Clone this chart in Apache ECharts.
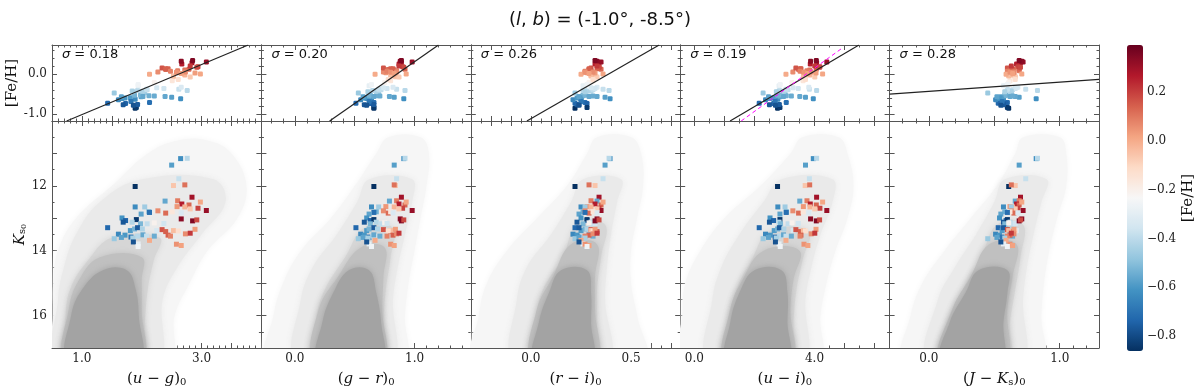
<!DOCTYPE html>
<html>
<head>
<meta charset="utf-8">
<script src="https://cdn.jsdelivr.net/npm/echarts@6/dist/echarts.min.js"></script>
<style>
  html, body { margin: 0; padding: 0; background: #fff; }
  #chart { width: 1200px; height: 392px; }
</style>
</head>
<body>
<div id="chart"></div>
<script>
// ---- stars: one entry per star, same order in every array ----
var starKs = [11.16,11.15,11.36,11.78,12.02,11.99,11.97,12.35,12.47,12.46,
              12.56,12.59,12.50,12.69,12.76,12.64,12.65,12.71,12.65,12.65,
              12.80,12.77,12.84,12.80,12.83,12.82,12.87,12.99,13.07,13.12,
              13.04,13.12,13.17,13.17,13.14,13.16,13.02,13.08,13.05,13.29,
              13.38,13.33,13.29,13.33,13.38,13.35,13.41,13.38,13.39,13.34,
              13.49,13.52,13.58,13.55,13.51,13.55,13.55,13.52,13.55,13.48,
              13.46,13.63,13.59,13.61,13.68,13.79,13.73,13.80,13.84,13.87];
var starFeh = [-0.62,-0.41,-0.58,-0.38,-0.86,-0.06,0.11,0.29,-0.56,0.09,
               0.26,0.13,0.01,0.19,0.31,0.04,-0.02,-0.07,-0.63,-0.46,
               -0.54,0.06,0.12,-0.16,-0.33,-0.71,-0.57,-0.61,-0.74,-0.77,
               -0.84,-0.42,-0.52,-0.39,-0.21,-0.36,0.33,0.35,0.18,-0.73,
               -0.59,-0.53,-0.76,-0.43,-0.34,0.16,0.14,-0.04,-0.13,0.03,
               -0.64,-0.60,-0.69,-0.41,-0.56,-0.38,-0.55,0.14,0.08,0.06,
               0.21,-0.47,-0.57,-0.44,0.00,-0.29,-0.78,0.05,0.02,-0.26];
var starUG = [2.65,2.76,2.50,2.62,1.89,2.53,2.72,2.84,2.39,2.60,
              2.67,2.79,2.98,2.94,3.08,2.59,2.72,2.81,1.89,2.05,
              2.12,2.27,2.40,2.51,2.66,2.13,1.99,1.67,1.73,1.69,
              1.91,1.84,1.98,2.09,2.21,2.37,2.66,2.85,2.92,1.43,
              1.81,1.88,1.93,2.01,2.25,2.34,2.40,2.53,2.61,2.89,
              1.61,1.72,1.82,1.93,2.02,2.08,2.21,2.44,2.48,2.73,
              2.81,1.54,1.66,1.85,2.13,1.94,1.86,2.58,2.66,1.94];
var starGR = [0.91,0.92,0.83,0.85,0.66,0.84,0.83,0.89,0.79,0.85,
              0.87,0.92,0.93,0.90,0.98,0.76,0.83,0.87,0.64,0.70,
              0.68,0.74,0.78,0.80,0.82,0.66,0.62,0.60,0.63,0.58,
              0.66,0.68,0.63,0.72,0.75,0.77,0.88,0.89,0.91,0.51,
              0.60,0.62,0.66,0.69,0.74,0.74,0.80,0.80,0.78,0.84,
              0.55,0.58,0.62,0.65,0.66,0.70,0.71,0.82,0.77,0.85,
              0.87,0.53,0.57,0.61,0.67,0.62,0.60,0.80,0.83,0.64];
var starRI = [0.395,0.39,0.37,0.36,0.22,0.32,0.29,0.34,0.33,0.30,
              0.32,0.35,0.36,0.34,0.35,0.28,0.30,0.33,0.25,0.27,
              0.26,0.27,0.29,0.31,0.33,0.27,0.24,0.25,0.28,0.23,
              0.28,0.30,0.26,0.31,0.29,0.32,0.33,0.32,0.34,0.22,
              0.25,0.27,0.24,0.28,0.30,0.30,0.33,0.30,0.31,0.32,
              0.21,0.23,0.25,0.26,0.29,0.27,0.31,0.29,0.27,0.31,
              0.33,0.22,0.24,0.27,0.25,0.26,0.24,0.27,0.29,0.28];
var starUI = [3.96,4.07,3.70,3.83,2.77,3.69,3.84,4.07,3.51,3.75,
              3.86,4.06,4.27,4.18,4.41,3.63,3.85,4.01,2.78,3.02,
              3.06,3.28,3.47,3.62,3.81,3.06,2.85,2.52,2.64,2.50,
              2.85,2.82,2.87,3.12,3.25,3.46,3.87,4.06,4.17,2.16,
              2.66,2.77,2.83,2.98,3.29,3.38,3.53,3.63,3.70,4.05,
              2.37,2.53,2.69,2.84,2.97,3.05,3.23,3.55,3.52,3.89,
              4.01,2.29,2.47,2.73,3.05,2.82,2.70,3.65,3.78,2.86];
var starJK = [0.82,0.83,0.69,0.74,0.61,0.66,0.63,0.70,0.66,0.69,
              0.67,0.69,0.71,0.68,0.72,0.62,0.64,0.66,0.57,0.63,
              0.58,0.63,0.65,0.62,0.68,0.60,0.55,0.54,0.59,0.57,
              0.60,0.62,0.58,0.64,0.61,0.66,0.71,0.69,0.70,0.53,
              0.56,0.59,0.57,0.63,0.67,0.60,0.64,0.61,0.66,0.65,
              0.51,0.54,0.56,0.60,0.62,0.60,0.64,0.62,0.60,0.65,
              0.63,0.45,0.52,0.58,0.59,0.57,0.55,0.62,0.64,0.60];

// ---- fitted relations in the [Fe/H] panels: two end points each ----
var fitUG = [[0.745, -1.18], [3.78, 0.74]];
var fitGR = [[0.29, -1.18], [1.20, 0.74]];
var fitRI = [[-0.02, -1.18], [0.64, 0.74]];
var fitUI = [[1.19, -1.18], [5.48, 0.74]];
var fitJK = [[-0.30, -0.50], [1.30, -0.13]];
var altUI = [[1.56, -1.18], [4.92, 0.66]];   // magenta dashed relation
var sigmas = ['0.18', '0.20', '0.26', '0.19', '0.28'];

// ---- background field population, [Ks, left colour, right colour] per density level ----
var cloudUG = [
  [[10.6,2.6,3.1],[11,2.1,3.5],[12,1.5,3.75],[13,0.9,3.6],[14,0.6,3.1],[15,0.52,2.8],[16,0.52,2.55],[17.4,0.52,2.45]],
  [[11.8,2.0,3.2],[12.5,1.3,3.4],[13.5,0.9,3.0],[14.5,0.7,2.6],[15.5,0.6,2.35],[17.4,0.6,2.25]],
  [[13.6,1.5,2.3],[14.3,1.1,2.2],[15.2,0.8,2.1],[16.2,0.72,2.05],[17.4,0.7,2.0]],
  [[14.2,1.3,2.0],[14.9,0.95,2.0],[15.8,0.78,2.0],[17.4,0.74,1.98]],
  [[14.6,1.35,1.75],[15.2,1.0,1.9],[16.0,0.82,1.95],[17.4,0.78,1.95]]
];
var cloudGR = [
  [[10.5,0.78,1.05],[11,0.68,1.12],[12,0.5,1.1],[13,0.3,1.05],[14,0.05,1.0],[15,-0.1,0.95],[16,-0.18,0.92],[17.4,-0.22,0.9]],
  [[11.8,0.62,0.98],[12.5,0.52,0.98],[13.5,0.35,0.92],[14.5,0.15,0.86],[15.5,0.05,0.82],[17.4,0.02,0.8]],
  [[13.3,0.58,0.82],[14.2,0.42,0.8],[15.2,0.25,0.76],[16.2,0.17,0.74],[17.4,0.15,0.74]],
  [[13.9,0.55,0.75],[14.8,0.36,0.74],[15.8,0.2,0.73],[17.4,0.17,0.73]],
  [[14.6,0.45,0.62],[15.3,0.32,0.68],[16.2,0.23,0.72],[17.4,0.2,0.72]]
];
var cloudRI = [
  [[10.5,0.33,0.5],[11,0.28,0.55],[12,0.18,0.56],[13,0.03,0.53],[14,-0.12,0.5],[15,-0.22,0.5],[16,-0.26,0.53],[17.4,-0.28,0.56]],
  [[11.8,0.26,0.45],[12.5,0.2,0.43],[13.5,0.1,0.4],[14.5,-0.02,0.38],[15.5,-0.07,0.37],[17.4,-0.08,0.38]],
  [[13.2,0.23,0.37],[14.2,0.16,0.35],[15.2,0.06,0.33],[16.2,0.02,0.33],[17.4,0.0,0.33]],
  [[13.8,0.2,0.33],[14.8,0.11,0.32],[15.8,0.03,0.32],[17.4,0.01,0.32]],
  [[14.6,0.15,0.28],[15.3,0.09,0.3],[16.2,0.04,0.3],[17.4,0.02,0.3]]
];
var cloudUI = [
  [[10.5,3.6,4.8],[11,3.2,5.1],[12,2.2,5.3],[13,1.0,5.1],[14,0.2,4.7],[15,-0.3,4.4],[16,-0.4,4.2],[17.4,-0.45,4.1]],
  [[11.8,2.9,4.6],[12.5,2.3,4.6],[13.5,1.5,4.2],[14.5,0.9,3.9],[15.5,0.6,3.7],[17.4,0.5,3.6]],
  [[13.4,2.5,3.8],[14.3,1.9,3.6],[15.2,1.4,3.4],[16.2,1.1,3.3],[17.4,1.0,3.25]],
  [[14.0,2.3,3.5],[14.9,1.6,3.3],[15.8,1.2,3.2],[17.4,1.05,3.2]],
  [[14.6,2.0,2.9],[15.3,1.5,3.1],[16.2,1.2,3.1],[17.4,1.1,3.1]]
];
var cloudJK = [
  [[10.5,0.72,1.0],[11,0.66,1.05],[12,0.52,1.05],[13,0.32,0.98],[14,0.12,0.92],[15,-0.05,0.88],[16,-0.14,0.86],[17.4,-0.18,0.85]],
  [[11.8,0.58,0.9],[12.5,0.5,0.86],[13.5,0.36,0.8],[14.5,0.2,0.75],[15.5,0.07,0.72],[17.4,0.0,0.7]],
  [[13.2,0.52,0.72],[14.2,0.4,0.7],[15.2,0.26,0.66],[16.2,0.14,0.62],[17.4,0.08,0.6]],
  [[13.8,0.46,0.67],[14.8,0.32,0.64],[15.8,0.18,0.6],[17.4,0.09,0.58]],
  [[14.6,0.38,0.6],[15.3,0.28,0.6],[16.2,0.16,0.57],[17.4,0.1,0.55]]
];

// ---- axes ----
var xRanges = [[0.5, 4.0], [-0.28, 1.47], [-0.3, 0.745], [-0.47, 6.5], [-0.3, 1.3]];
var xLabelVals = [[1.0, 3.0], [0.0, 1.0], [0.0, 0.5], [0.0, 4.0], [0.0, 1.0]];
var xMajorStep = [0.5, 0.5, 0.1, 1.0, 0.5];
var xMinorStep = [0.1, 0.1, 0.05, 0.5, 0.1];
var fehRange = [-1.18, 0.74];
var fehLabelVals = [-1.0, 0.0];
var ksRange = [10, 17];
var ksLabelVals = [12, 14, 16];
var cbarRange = [-0.86, 0.39];
var cbarLabelVals = [-0.8, -0.6, -0.4, -0.2, 0.0, 0.2];

var colours = [starUG, starGR, starRI, starUI, starJK];
var fits = [fitUG, fitGR, fitRI, fitUI, fitJK];
var clouds = [cloudUG, cloudGR, cloudRI, cloudUI, cloudJK];
var xNames = [
  '{n|(}{i|u}{n| \u2212 }{i|g}{n|)}{s|0}',
  '{n|(}{i|g}{n| \u2212 }{i|r}{n|)}{s|0}',
  '{n|(}{i|r}{n| \u2212 }{i|i}{n|)}{s|0}',
  '{n|(}{i|u}{n| \u2212 }{i|i}{n|)}{s|0}',
  '{n|(}{i|J}{n| \u2212 }{i|K}{s|s}{n|)}{s|0}'
];

var rdbu = ['#053061','#2166ac','#4393c3','#92c5de','#d1e5f0','#f7f7f7',
            '#fddbc7','#f4a582','#d6604d','#b2182b','#67001f'];
var cloudFills = ['#f6f6f6', '#eaeaea', '#d6d6d6', '#c0c0c0', '#a3a3a3'];
var axisColor = '#555';
var serif = 'DejaVu Serif';

var gx0 = 52, gw = 209.4, topY = 45, topH = 76, botY = 121, botH = 229;

function steps(min, max, step) {
  var out = [];
  for (var k = Math.ceil(min / step - 1e-9); k * step <= max + 1e-9; k++) {
    out.push(Math.round(k * step * 1e6) / 1e6);
  }
  return out;
}

var richName = {
  n: { fontFamily: serif, fontSize: 15, color: '#111' },
  i: { fontFamily: serif, fontSize: 15, fontStyle: 'italic', color: '#111' },
  s: { fontFamily: serif, fontSize: 10, color: '#111', verticalAlign: 'bottom', lineHeight: 12 },
  ss: { fontFamily: serif, fontSize: 8, color: '#111', verticalAlign: 'bottom', lineHeight: 10 }
};

function fmt(v) {
  return (v < 0 ? '-' : '') + Math.abs(v).toFixed(1);
}

var grids = [], xAxes = [], yAxes = [];

// builds main + minor axes on both sides, returns index of the main axis
function addAxes(list, dim, gi, range, major, minor, labels, showLabels, extra) {
  var sides = dim === 'x' ? ['bottom', 'top'] : ['left', 'right'];
  var mainIndex = list.length;
  sides.forEach(function (side, k) {
    [major, minor].forEach(function (ticks, m) {
      var ax = {
        type: 'value', gridIndex: gi, position: side,
        min: range[0], max: range[1], inverse: !!extra.inverse,
        axisLine: { show: m === 0, onZero: false, lineStyle: { color: axisColor, width: 1 } },
        axisTick: { show: true, inside: true, length: m === 0 ? 5 : 2.5, customValues: ticks,
                    lineStyle: { color: axisColor, width: 1 } },
        axisLabel: { show: showLabels && k === 0 && m === 0, customValues: labels,
                     formatter: extra.formatter || fmt, fontFamily: serif, fontSize: 12,
                     color: '#222', margin: 5 },
        splitLine: { show: false }
      };
      if (k === 0 && m === 0 && extra.name) {
        ax.name = extra.name;
        ax.nameLocation = 'middle';
        ax.nameGap = extra.nameGap;
        if (extra.nameRotate != null) ax.nameRotate = extra.nameRotate;
        ax.nameTextStyle = { rich: richName, fontFamily: serif, fontSize: 15, color: '#111' };
      }
      list.push(ax);
    });
  });
  return mainIndex;
}

var series = [];
var starSeries = [];
var graphics = [];

for (var p = 0; p < 5; p++) {
  var left = gx0 + p * gw;
  var gTop = grids.length;
  grids.push({ left: left, top: topY, width: gw, height: topH });
  var gBot = grids.length;
  grids.push({ left: left, top: botY, width: gw, height: botH });

  var xr = xRanges[p];
  var xMaj = steps(xr[0], xr[1], xMajorStep[p]);
  var xMin = steps(xr[0], xr[1], xMinorStep[p]);

  var xTop = addAxes(xAxes, 'x', gTop, xr, xMaj, xMin, xLabelVals[p], false, {});
  var yTop = addAxes(yAxes, 'y', gTop, fehRange, fehLabelVals, steps(fehRange[0], fehRange[1], 0.2),
                     fehLabelVals, p === 0,
                     p === 0 ? { name: '[Fe/H]', nameGap: 32, nameRotate: 90 } : {});
  var xBot = addAxes(xAxes, 'x', gBot, xr, xMaj, xMin, xLabelVals[p], true,
                     { name: xNames[p], nameGap: 24 });
  var yBot = addAxes(yAxes, 'y', gBot, ksRange, steps(10, 17, 1), steps(10, 17, 0.5),
                     ksLabelVals, p === 0,
                     p === 0 ? { inverse: true, name: '{i|K}{s|s}{ss|0}', nameGap: 15, nameRotate: 90,
                                 formatter: function (v) { return String(v); } }
                             : { inverse: true });

  // background population, drawn as nested density levels
  clouds[p].forEach(function (rows, lvl) {
    series.push({
      type: 'custom', xAxisIndex: xBot, yAxisIndex: yBot, silent: true, clip: true, z: 1,
      data: [[rows[0][1], rows[0][0]]],
      renderItem: function (params, api) {
        var pts = [];
        for (var i = 0; i < rows.length; i++) pts.push(api.coord([rows[i][1], rows[i][0]]));
        for (var j = rows.length - 1; j >= 0; j--) pts.push(api.coord([rows[j][2], rows[j][0]]));
        return {
          type: 'polygon',
          shape: { points: pts, smooth: 0.4 },
          style: { fill: cloudFills[lvl], shadowBlur: 6, shadowColor: cloudFills[lvl] }
        };
      }
    });
  });

  var col = colours[p];
  var botData = [], topData = [];
  for (var i = 0; i < starKs.length; i++) {
    botData.push([col[i], starKs[i], starFeh[i]]);
    topData.push([col[i], starFeh[i], starFeh[i]]);
  }
  starSeries.push(series.length);
  series.push({
    type: 'scatter', xAxisIndex: xBot, yAxisIndex: yBot, data: botData, z: 5,
    symbol: 'rect', symbolSize: 5, itemStyle: { opacity: 1 }, silent: true
  });
  starSeries.push(series.length);
  series.push({
    type: 'scatter', xAxisIndex: xTop, yAxisIndex: yTop, data: topData, z: 5,
    symbol: 'roundRect', symbolSize: 5, itemStyle: { opacity: 1 }, silent: true
  });

  series.push({
    type: 'line', xAxisIndex: xTop, yAxisIndex: yTop, data: fits[p], z: 6,
    symbol: 'none', silent: true, lineStyle: { color: '#222', width: 1.2 }
  });
  if (p === 3) {
    series.push({
      type: 'line', xAxisIndex: xTop, yAxisIndex: yTop, data: altUI, z: 6,
      symbol: 'none', silent: true, lineStyle: { color: '#ff00ff', width: 1, type: [4, 3] }
    });
  }

  graphics.push({
    type: 'text', left: left + 10, top: 48, z: 10,
    style: {
      text: '{i|\u03c3} = ' + sigmas[p],
      font: '13px "DejaVu Sans"', fill: '#111',
      rich: { i: { fontFamily: 'DejaVu Sans', fontStyle: 'italic', fontSize: 13, fill: '#111' } }
    }
  });
}

// colour bar scale
var gCbar = grids.length;
grids.push({ left: 1127, top: 45, width: 16, height: 306 });
xAxes.push({ type: 'value', gridIndex: gCbar, show: false, min: 0, max: 1 });
[0, 1].forEach(function (m) {
  var ax = {
    type: 'value', gridIndex: gCbar, position: 'right', min: cbarRange[0], max: cbarRange[1],
    axisLine: { show: false, onZero: false },
    axisTick: { show: true, inside: true, length: m === 0 ? 5 : 2.5,
                customValues: m === 0 ? cbarLabelVals : steps(cbarRange[0], cbarRange[1], 0.05),
                lineStyle: { color: '#333', width: 1 } },
    axisLabel: { show: m === 0, customValues: cbarLabelVals, fontFamily: serif, fontSize: 12, color: '#222',
                 margin: 4,
                 formatter: function (v) { return (v < -1e-9 ? '\u2212' : '') + Math.abs(v).toFixed(1); } },
    splitLine: { show: false }
  };
  if (m === 0) {
    ax.name = '[Fe/H]';
    ax.nameLocation = 'middle';
    ax.nameGap = 38;
    ax.nameRotate = 90;
    ax.nameTextStyle = { fontFamily: serif, fontSize: 15, color: '#111' };
  }
  yAxes.push(ax);
});

var chart = echarts.init(document.getElementById('chart'), null, { renderer: 'canvas' });
chart.setOption({
  animation: false,
  backgroundColor: '#fff',
  title: {
    text: '({i|l}, {i|b}) = (-1.0\u00b0, -8.5\u00b0)',
    left: 'center', top: 6,
    textStyle: {
      fontFamily: 'DejaVu Sans', fontSize: 18, fontWeight: 'normal', color: '#111',
      rich: { i: { fontFamily: 'DejaVu Sans', fontSize: 18, fontStyle: 'italic', color: '#111' } }
    }
  },
  grid: grids,
  xAxis: xAxes,
  yAxis: yAxes,
  visualMap: {
    type: 'continuous', min: cbarRange[0], max: cbarRange[1], dimension: 2,
    seriesIndex: starSeries, inRange: { color: rdbu },
    calculable: false, orient: 'vertical', left: 1127, top: 45,
    itemWidth: 16, itemHeight: 306, padding: 0, text: null, showLabel: false, hoverLink: false
  },
  graphic: graphics,
  series: series
});
</script>
</body>
</html>
